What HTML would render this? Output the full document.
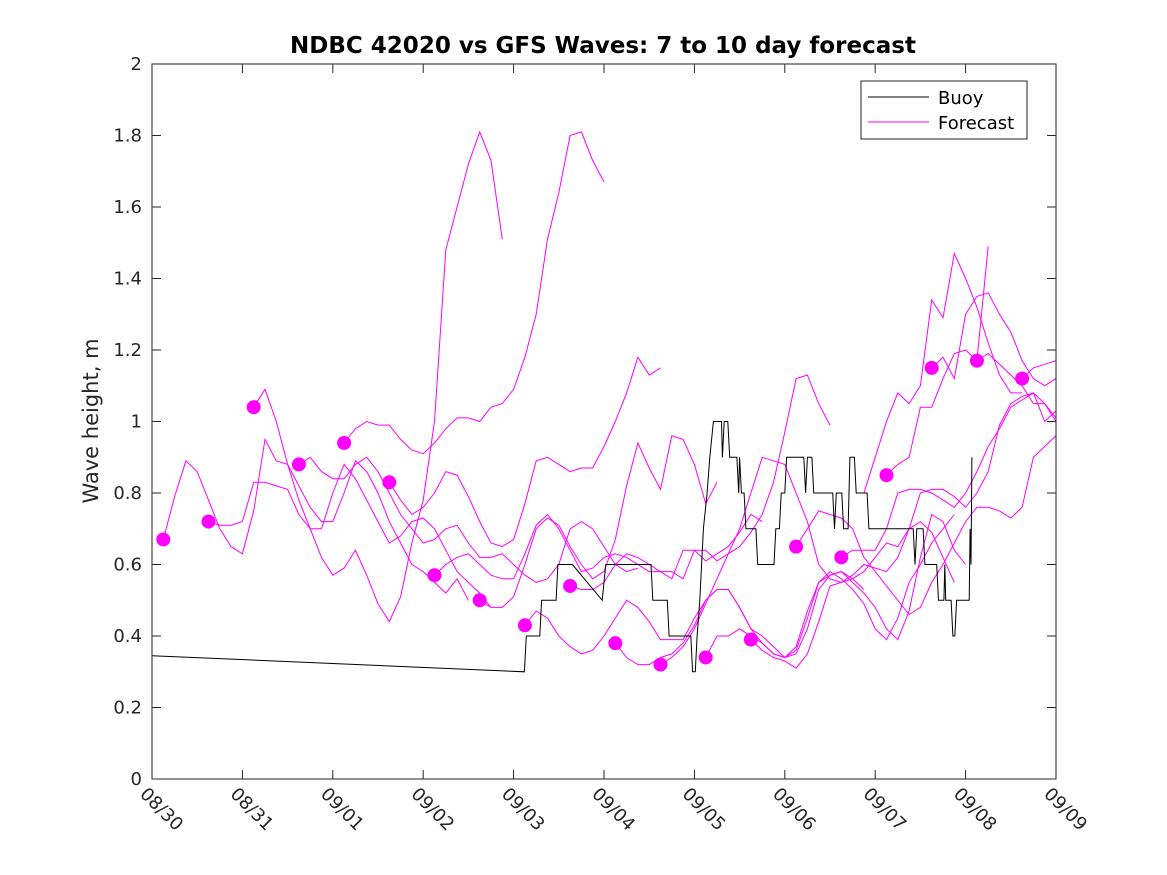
<!DOCTYPE html>
<html><head><meta charset="utf-8"><style>
html,body{margin:0;padding:0;background:#fff;}
svg{display:block;font-family:"DejaVu Sans","Liberation Sans",sans-serif;}
</style></head>
<body>
<svg id="chart" width="1167" height="875" viewBox="0 0 1167 875">
<rect width="1167" height="875" fill="#fff"/>
<text x="603" y="53" text-anchor="middle" font-size="23" font-weight="bold" fill="#000">NDBC 42020 vs GFS Waves: 7 to 10 day forecast</text>
<text transform="translate(98,421) rotate(-90)" text-anchor="middle" font-size="21" fill="#262626">Wave height, m</text>
<defs><clipPath id="plotclip"><rect x="152" y="64" width="904" height="715"/></clipPath></defs>
<rect x="152" y="64" width="904" height="715" fill="none"/>
<g id="grid-ticks"></g>
<g id="forecast-lines" clip-path="url(#plotclip)"></g>
<g id="buoy-line" clip-path="url(#plotclip)"></g>
<g id="forecast-dots"></g>
<rect x="152" y="64" width="904" height="715" fill="none" stroke="#262626" stroke-width="1"/>
<g>
<rect x="861" y="81" width="166" height="58" fill="#fff" stroke="#262626" stroke-width="1"/>
<line x1="868" y1="97" x2="929" y2="97" stroke="#000" stroke-width="1"/>
<text x="938" y="104" font-size="18" fill="#000">Buoy</text>
<line x1="868" y1="122" x2="929" y2="122" stroke="#ff00ff" stroke-width="1"/>
<text x="938" y="129" font-size="18" fill="#000">Forecast</text>
</g>
</svg>
<script>
const xTickLabels = ["08/30","08/31","09/01","09/02","09/03","09/04","09/05","09/06","09/07","09/08","09/09"];
const yTicks = [0,0.2,0.4,0.6,0.8,1,1.2,1.4,1.6,1.8,2];
const dotDays = [0.125,0.625,1.125,1.625,2.125,2.625,3.125,3.625,4.125,4.625,5.125,5.625,6.125,6.625,7.125,7.625,8.125,8.625,9.125,9.625];
const dotValues = [0.67,0.72,1.04,0.88,0.94,0.83,0.57,0.50,0.43,0.54,0.38,0.32,0.34,0.39,0.65,0.62,0.85,1.15,1.17,1.12];
const forecastStarts = [0.125,0.625,1.125,1.625,2.125,2.625,3.125,3.625,4.125,4.625,5.125,5.625,6.125,6.625,7.125,7.625,8.125,8.625,9.125,9.625,7.875];
const forecastValues = [
 [0.67,0.79,0.89,0.86,0.78,0.70,0.65,0.63,0.75,0.95,0.89,0.88,0.82,0.76,0.72,0.72,0.80,0.89,0.86,0.80,0.72,0.66,0.60,0.58,0.55,0.52,0.56,0.50],
 [0.72,0.71,0.71,0.72,0.83,0.83,0.82,0.81,0.74,0.70,0.70,0.80,0.88,0.84,0.78,0.72,0.66,0.68,0.72,0.73,0.70,0.64,0.58,0.55,0.52,0.48],
 [1.04,1.09,1.00,0.88,0.78,0.70,0.62,0.57,0.59,0.64,0.57,0.49,0.44,0.51,0.66,0.78,1.00,1.48,1.60,1.72,1.81,1.73,1.51],
 [0.88,0.90,0.86,0.84,0.84,0.88,0.90,0.86,0.80,0.74,0.70,0.66,0.67,0.70,0.71,0.66,0.62,0.62,0.63,0.60,0.57,0.55,0.56,0.60,0.70,0.72,0.70,0.65,0.60,0.58,0.59],
 [0.94,0.98,1.00,0.99,0.99,0.95,0.92,0.91,0.94,0.98,1.01,1.01,1.00,1.04,1.05,1.09,1.18,1.30,1.51,1.64,1.80,1.81,1.73,1.67],
 [0.83,0.78,0.74,0.76,0.80,0.86,0.85,0.79,0.72,0.66,0.65,0.67,0.77,0.89,0.90,0.88,0.86,0.87,0.87,0.93,1.00,1.08,1.18,1.13,1.15],
 [0.57,0.60,0.62,0.63,0.60,0.57,0.56,0.56,0.63,0.71,0.74,0.70,0.64,0.58,0.59,0.62,0.63,0.62,0.60,0.58,0.58,0.56,0.64,0.64,0.61,0.63,0.65,0.69,0.74,0.72],
 [0.50,0.48,0.48,0.51,0.60,0.70,0.73,0.71,0.65,0.60,0.56,0.58,0.67,0.82,0.94,0.87,0.81,0.96,0.95,0.88,0.77,0.83],
 [0.43,0.47,0.45,0.40,0.37,0.35,0.36,0.40,0.45,0.50,0.48,0.44,0.39,0.39,0.39,0.45,0.50,0.53,0.53,0.48,0.42,0.40,0.37,0.34,0.35,0.42,0.53,0.57,0.58,0.56,0.53],
 [0.54,0.53,0.53,0.55,0.60,0.63,0.62,0.60,0.58,0.58,0.56,0.64,0.64,0.61,0.63,0.65,0.69,0.74,0.83,0.97,1.12,1.13,1.05,0.99],
 [0.38,0.34,0.32,0.32,0.34,0.35,0.38,0.43,0.50,0.53,0.53,0.48,0.42,0.38,0.35,0.34,0.36,0.45,0.55,0.58,0.56,0.53,0.49,0.42,0.39,0.45,0.55,0.60,0.66,0.70,0.74],
 [0.32,0.34,0.37,0.42,0.49,0.56,0.63,0.70,0.80,0.90,0.89,0.88,0.80,0.72,0.60,0.56,0.55,0.57,0.60,0.59,0.58,0.62,0.70,0.72,0.69,0.62,0.55],
 [0.34,0.40,0.40,0.42,0.40,0.38,0.35,0.34,0.37,0.47,0.55,0.57,0.58,0.55,0.52,0.48,0.42,0.39,0.47,0.62,0.74,0.72,0.64,0.60],
 [0.39,0.36,0.34,0.33,0.31,0.35,0.44,0.54,0.55,0.56,0.58,0.62,0.66,0.65,0.70,0.80,0.81,0.81,0.79,0.76,0.80,0.86,0.99,1.05,1.07,1.08,1.00,1.03,1.00],
 [0.65,0.70,0.75,0.74,0.73,0.70,0.62,0.58,0.54,0.50,0.46,0.48,0.55,0.60,0.66,0.72,0.76,0.76,0.75,0.73,0.76,0.90,0.93,0.96],
 [0.62,0.64,0.64,0.64,0.70,0.80,0.81,0.81,0.80,0.78,0.76,0.80,0.86,0.93,0.98,1.04,1.06,1.08,1.05,1.01,1.03,0.98],
 [0.85,0.88,0.90,1.04,1.04,1.12,1.19,1.20,1.17,1.49],
 [1.15,1.18,1.12,1.30,1.35,1.36,1.30,1.25,1.17,1.12,1.10,1.12],
 [1.17,1.19,1.16,1.13,1.10,1.05,1.05,1.00,1.03],
 [1.12,1.15,1.16,1.17],
 [0.80,0.90,1.00,1.08,1.05,1.10,1.34,1.29,1.47,1.40,1.32,1.22,1.13,1.08,1.08]
];
const buoyDays = [0,4.12,4.14,4.29,4.31,4.47,4.49,4.65,4.98,5.02,5.52,5.54,5.70,5.72,5.96,5.98,6.01,6.03,6.06,6.08,6.10,6.14,6.17,6.21,6.30,6.31,6.33,6.37,6.39,6.47,6.49,6.50,6.52,6.55,6.57,6.68,6.70,6.88,6.90,6.94,6.96,7.00,7.02,7.21,7.23,7.25,7.30,7.32,7.53,7.55,7.57,7.63,7.65,7.70,7.72,7.77,7.79,7.91,7.93,8.42,8.44,8.46,8.53,8.55,8.68,8.70,8.72,8.76,8.77,8.78,8.84,8.86,8.88,8.90,9.04,9.05,9.06,9.07];
const buoyValues = [0.345,0.30,0.40,0.40,0.50,0.50,0.60,0.60,0.50,0.60,0.60,0.50,0.50,0.40,0.40,0.30,0.30,0.40,0.50,0.60,0.70,0.80,0.90,1.00,1.00,0.90,1.00,1.00,0.90,0.90,0.80,0.90,0.80,0.80,0.70,0.70,0.60,0.60,0.70,0.70,0.80,0.80,0.90,0.90,0.80,0.90,0.90,0.80,0.80,0.70,0.80,0.80,0.70,0.70,0.90,0.90,0.80,0.80,0.70,0.70,0.60,0.70,0.70,0.60,0.60,0.50,0.50,0.50,0.60,0.50,0.50,0.40,0.40,0.50,0.50,0.70,0.60,0.90];
const STEP = 0.125;
const X0=152, X1=1056, Y0=779, Y1=64;
function xs(d){return X0 + d/10*(X1-X0);}
function ys(v){return Y0 - v/2*(Y0-Y1);}
const NS="http://www.w3.org/2000/svg";
function mk(tag, attrs){const e=document.createElementNS(NS,tag);for(const k in attrs)e.setAttribute(k,attrs[k]);return e;}
const gt=document.getElementById('grid-ticks');
yTicks.forEach(function(v){
  const y=ys(v);
  const t1=mk('line',{x1:X0,y1:y,x2:X0+9,y2:y,stroke:'#262626'});
  
  
  gt.appendChild(t1);
  const t2=mk('line',{x1:X1-9,y1:y,x2:X1,y2:y,stroke:'#262626'});
  
  
  gt.appendChild(t2);
  const lb=mk('text',{x:X0-10,y:y+6,'text-anchor':'end','font-size':18,fill:'#262626'});
  lb.textContent=String(v);
  
  
  gt.appendChild(lb);
});
xTickLabels.forEach(function(s,i){
  const x=xs(i);
  const t1=mk('line',{x1:x,y1:Y0,x2:x,y2:Y0-9,stroke:'#262626'});
  
  
  gt.appendChild(t1);
  const t2=mk('line',{x1:x,y1:Y1,x2:x,y2:Y1+9,stroke:'#262626'});
  
  
  gt.appendChild(t2);
  const lb=mk('text',{transform:'translate('+(x-13)+','+(Y0+16)+') rotate(45)','font-size':18,fill:'#262626'});
  lb.textContent=s;
  
  
  gt.appendChild(lb);
});
const gf=document.getElementById('forecast-lines');
forecastValues.forEach(function(vals,i){
  const pts=vals.map(function(v,j){return xs(forecastStarts[i]+j*STEP).toFixed(1)+','+ys(v).toFixed(1);}).join(' ');
  const pl=mk('polyline',{points:pts,fill:'none',stroke:'#ff00ff','stroke-width':1});
  
  
  gf.appendChild(pl);
});
const gb=document.getElementById('buoy-line');
const bp=buoyDays.map(function(d,i){return xs(d).toFixed(1)+','+ys(buoyValues[i]).toFixed(1);}).join(' ');
const bl=mk('polyline',{points:bp,fill:'none',stroke:'#000','stroke-width':1});


gb.appendChild(bl);
const gd=document.getElementById('forecast-dots');
dotDays.forEach(function(d,i){
  const c=mk('circle',{cx:xs(d),cy:ys(dotValues[i]),r:7,fill:'#ff00ff'});
  
  
  gd.appendChild(c);
});
</script>
</body></html>
